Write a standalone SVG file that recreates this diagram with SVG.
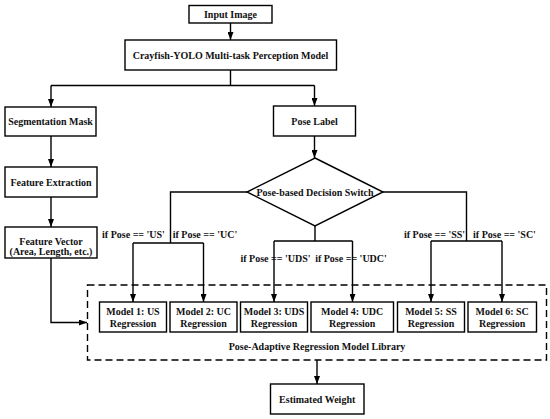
<svg xmlns="http://www.w3.org/2000/svg" width="550" height="419" viewBox="0 0 550 419">
<defs>
<marker id="ah" markerWidth="8" markerHeight="6" refX="8" refY="3" orient="auto" markerUnits="userSpaceOnUse">
<path d="M0,0 L8,3 L0,6 z" fill="#000"/>
</marker>
<style>
rect.n{fill:#fff;stroke:#000;stroke-width:1.4}
text{font-family:"Liberation Serif","Times New Roman",serif;font-weight:bold;font-size:10px;fill:#111;text-anchor:middle}
.c{fill:none;stroke:#000;stroke-width:1.4}
.a{marker-end:url(#ah)}
</style>
</defs>
<rect width="550" height="419" fill="#fff"/>
<g id="connectors">
<path class="c a" d="M230.5,23 V40"/>
<path class="c" d="M230.5,70 V85.5 M51,85.5 H314.5"/>
<path class="c a" d="M51,85.5 V107"/>
<path class="c a" d="M314.5,85.5 V106"/>
<path class="c a" d="M51,136 V167"/>
<path class="c a" d="M51,197 V227"/>
<path class="c a" d="M314.5,136 V158"/>
<path class="c" d="M247,192 H170.5 V243 M133,243 H203.5"/>
<path class="c a" d="M133,243 V302"/>
<path class="c a" d="M203.5,243 V302"/>
<path class="c" d="M315,226 V241 M274,241 H352.5"/>
<path class="c a" d="M274,241 V302"/>
<path class="c a" d="M352.5,241 V302"/>
<path class="c" d="M383,192 H466.5 V241 M431,241 H502"/>
<path class="c a" d="M431,241 V302"/>
<path class="c a" d="M502,241 V302"/>
<path class="c a" d="M51,258 V322.5 H87"/>
<path class="c a" d="M317,360 V384"/>
</g>
<g id="input"><rect class="n" x="189" y="5.5" width="83" height="17.5"/><text x="230.5" y="18">Input Image</text></g>
<g id="crayfish"><rect class="n" x="125" y="40" width="211.5" height="30"/><text x="230.5" y="58.5">Crayfish-YOLO Multi-task Perception Model</text></g>
<g id="segmask"><rect class="n" x="5" y="107" width="91" height="29"/><text x="50.5" y="125">Segmentation Mask</text></g>
<g id="poselabel"><rect class="n" x="273.5" y="106" width="82" height="30"/><text x="314.5" y="124.5">Pose Label</text></g>
<g id="featext"><rect class="n" x="5" y="167" width="92" height="30"/><text x="51" y="185.5">Feature Extraction</text></g>
<g id="featvec"><rect class="n" x="5" y="227" width="92" height="31"/><text x="51" y="245">Feature Vector</text><text x="51" y="255">(Area, Length, etc.)</text></g>
<g id="decision"><polygon points="315,158 383,192 315,226 247,192" fill="#fff" stroke="#000" stroke-width="1.4"/><text x="315" y="195.5">Pose-based Decision Switch</text></g>
<g id="labels">
<text x="133.5" y="237.5">if Pose == 'US'</text>
<text x="205" y="237.5">if Pose == 'UC'</text>
<text x="275.5" y="261.5">if Pose == 'UDS'</text>
<text x="351" y="261.5">if Pose == 'UDC'</text>
<text x="434.5" y="237.5">if Pose == 'SS'</text>
<text x="504.5" y="237.5">if Pose == 'SC'</text>
</g>
<g id="library">
<rect x="87.5" y="285" width="459" height="75" fill="none" stroke="#000" stroke-width="1.4" stroke-dasharray="7,4"/>
<text x="317" y="349.5">Pose-Adaptive Regression Model Library</text>
</g>
<g id="m1"><rect class="n" x="99.5" y="302" width="67" height="30"/><text x="133" y="314.5">Model 1: US</text><text x="133" y="326.5">Regression</text></g>
<g id="m2"><rect class="n" x="170" y="302" width="67" height="30"/><text x="203.5" y="314.5">Model 2: UC</text><text x="203.5" y="326.5">Regression</text></g>
<g id="m3"><rect class="n" x="240.5" y="302" width="67" height="30"/><text x="274" y="314.5">Model 3: UDS</text><text x="274" y="326.5">Regression</text></g>
<g id="m4"><rect class="n" x="311" y="302" width="82.5" height="30"/><text x="352.2" y="314.5">Model 4: UDC</text><text x="352.2" y="326.5">Regression</text></g>
<g id="m5"><rect class="n" x="397.5" y="302" width="67" height="30"/><text x="431" y="314.5">Model 5: SS</text><text x="431" y="326.5">Regression</text></g>
<g id="m6"><rect class="n" x="468" y="302" width="68.5" height="30"/><text x="502.2" y="314.5">Model 6: SC</text><text x="502.2" y="326.5">Regression</text></g>
<g id="weight"><rect class="n" x="270.5" y="384" width="93.5" height="30"/><text x="317.2" y="402.5">Estimated Weight</text></g>
</svg>
